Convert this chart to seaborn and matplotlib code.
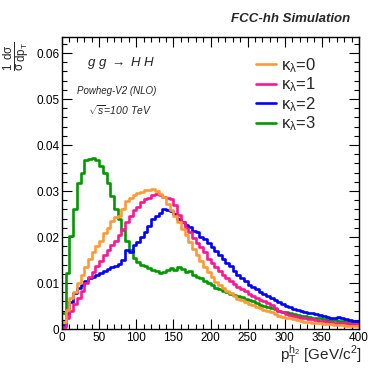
import numpy as np
import pandas as pd
import matplotlib
matplotlib.use("Agg")
import matplotlib.pyplot as plt
from matplotlib.lines import Line2D
from matplotlib.ticker import MultipleLocator, FuncFormatter
import seaborn as sns

# ---------------- data (5 GeV bins, 0-400 GeV) ----------------
bin_edges = list(range(0, 405, 5))
kappa_labels = ["0", "1", "2", "3"]

k0_orange = [0.0015, 0.0042, 0.0068, 0.0080, 0.0100, 0.0118, 0.0135, 0.0152, 0.0168, 0.0180,
             0.0192, 0.0208, 0.0220, 0.0235, 0.0243, 0.0246, 0.0260, 0.0278, 0.0285, 0.0292,
             0.0296, 0.0298, 0.0302, 0.0303, 0.0304, 0.0300, 0.0293, 0.0286, 0.0272, 0.0258,
             0.0246, 0.0232, 0.0218, 0.0205, 0.0190, 0.0174, 0.0160, 0.0148, 0.0135, 0.0124,
             0.0112, 0.0103, 0.0096, 0.0089, 0.0083, 0.0078, 0.0072, 0.0066, 0.0063, 0.0058,
             0.0055, 0.0052, 0.0048, 0.0045, 0.0042, 0.0039, 0.0036, 0.0032, 0.0029, 0.0027,
             0.0025, 0.0023, 0.0021, 0.0019, 0.0018, 0.0016, 0.0015, 0.0014, 0.0013, 0.0012,
             0.0011, 0.0010, 0.0010, 0.0009, 0.0008, 0.0008, 0.0007, 0.0007, 0.0006, 0.0006]

k1_pink = [0.0005, 0.0025, 0.0040, 0.0055, 0.0068, 0.0082, 0.0100, 0.0112, 0.0125, 0.0138,
           0.0148, 0.0160, 0.0172, 0.0182, 0.0192, 0.0205, 0.0218, 0.0232, 0.0245, 0.0258,
           0.0266, 0.0276, 0.0282, 0.0285, 0.0292, 0.0294, 0.0292, 0.0287, 0.0285, 0.0282,
           0.0270, 0.0248, 0.0232, 0.0220, 0.0210, 0.0198, 0.0188, 0.0178, 0.0168, 0.0152,
           0.0143, 0.0134, 0.0126, 0.0117, 0.0110, 0.0104, 0.0097, 0.0092, 0.0088, 0.0082,
           0.0076, 0.0071, 0.0067, 0.0063, 0.0060, 0.0057, 0.0052, 0.0046, 0.0040, 0.0036,
           0.0032, 0.0030, 0.0028, 0.0027, 0.0025, 0.0024, 0.0022, 0.0021, 0.0019, 0.0018,
           0.0017, 0.0016, 0.0015, 0.0014, 0.0013, 0.0013, 0.0012, 0.0011, 0.0011, 0.0010]

k2_blue = [0.0008, 0.0032, 0.0058, 0.0078, 0.0090, 0.0095, 0.0105, 0.0110, 0.0114, 0.0118,
           0.0122, 0.0126, 0.0130, 0.0134, 0.0138, 0.0142, 0.0150, 0.0172, 0.0168, 0.0182,
           0.0190, 0.0200, 0.0212, 0.0225, 0.0240, 0.0245, 0.0252, 0.0260, 0.0258, 0.0256,
           0.0250, 0.0240, 0.0232, 0.0226, 0.0222, 0.0213, 0.0210, 0.0200, 0.0195, 0.0186,
           0.0178, 0.0170, 0.0162, 0.0152, 0.0143, 0.0136, 0.0126, 0.0118, 0.0110, 0.0104,
           0.0096, 0.0092, 0.0088, 0.0080, 0.0076, 0.0072, 0.0067, 0.0062, 0.0058, 0.0054,
           0.0050, 0.0047, 0.0044, 0.0041, 0.0039, 0.0037, 0.0035, 0.0034, 0.0033, 0.0031,
           0.0029, 0.0027, 0.0025, 0.0024, 0.0026, 0.0023, 0.0021, 0.0020, 0.0018, 0.0017]

k3_green = [0.0035, 0.0122, 0.0202, 0.0260, 0.0317, 0.0339, 0.0368, 0.0370, 0.0372, 0.0368,
            0.0355, 0.0340, 0.0318, 0.0290, 0.0262, 0.0240, 0.0215, 0.0192, 0.0172, 0.0155,
            0.0145, 0.0140, 0.0137, 0.0133, 0.0128, 0.0126, 0.0122, 0.0125, 0.0128, 0.0132,
            0.0128, 0.0135, 0.0130, 0.0124, 0.0126, 0.0118, 0.0113, 0.0110, 0.0104, 0.0100,
            0.0096, 0.0090, 0.0087, 0.0083, 0.0080, 0.0077, 0.0074, 0.0072, 0.0069, 0.0066,
            0.0063, 0.0060, 0.0056, 0.0053, 0.0051, 0.0047, 0.0046, 0.0043, 0.0040, 0.0037,
            0.0036, 0.0034, 0.0032, 0.0031, 0.0029, 0.0028, 0.0026, 0.0025, 0.0023, 0.0023,
            0.0021, 0.0020, 0.0020, 0.0019, 0.0018, 0.0018, 0.0017, 0.0016, 0.0016, 0.0015]

series = [k0_orange, k1_pink, k2_blue, k3_green]
colors = ["#ff9933", "#ff1493", "#0000ff", "#009900"]

x_ticks = [0, 50, 100, 150, 200, 250, 300, 350, 400]
y_ticks = [0, 0.01, 0.02, 0.03, 0.04, 0.05, 0.06]

# ---------------- figure ----------------
sns.set_theme(style="ticks")
plt.rcParams["font.family"] = ["Liberation Sans", "DejaVu Sans"]
plt.rcParams["mathtext.fontset"] = "custom"
plt.rcParams["mathtext.rm"] = "Liberation Sans"
plt.rcParams["mathtext.it"] = "Liberation Sans:italic"
plt.rcParams["mathtext.bf"] = "Liberation Sans:bold"
plt.rcParams["mathtext.default"] = "regular"

fig = plt.figure(figsize=(3.9, 3.75), dpi=100)
ax = fig.add_axes([62 / 390, 46 / 375, 297 / 390, 292 / 375])

edges = np.array(bin_edges, dtype=float)
centers = (edges[:-1] + edges[1:]) / 2
rows = []
for lab, vals in zip(kappa_labels, series):
    for c, v in zip(centers, vals):
        rows.append({"pt": c, "w": v, "kappa": lab})
df = pd.DataFrame(rows)

sns.histplot(data=df, x="pt", weights="w", hue="kappa", hue_order=kappa_labels,
             palette=colors, binwidth=5, binrange=(0, 400), element="step", fill=False,
             linewidth=1.9, legend=False, ax=ax)

ax.set_xlim(0, 400)
ax.set_ylim(0, 0.0635)
ax.set_xlabel("")
ax.set_ylabel("")

ax.xaxis.set_minor_locator(MultipleLocator(10))
ax.yaxis.set_minor_locator(MultipleLocator(0.002))
ax.set_xticks(x_ticks)
ax.set_yticks(y_ticks)
ax.yaxis.set_major_formatter(FuncFormatter(lambda v, p: "0" if abs(v) < 1e-9 else f"{v:.2f}"))
ax.tick_params(which="both", direction="in", top=True, right=True, colors="black",
               labelsize=8.5, width=0.8)
ax.tick_params(which="major", length=7, pad=2)
ax.tick_params(which="minor", length=3.5)
for s in ax.spines.values():
    s.set_color("black")
    s.set_linewidth(1.0)

# labels
fig.text(17 / 390, 1 - 56 / 375, r"$\frac{1}{\sigma}\frac{d\sigma}{dp_{T}}$", rotation=90,
         ha="center", va="center", fontsize=12)
fig.text(362 / 390, 1 - 355 / 375, r"$p_{T}^{h_{2}}$ [GeV/c$^{2}$]", ha="right",
         va="center", fontsize=11)
fig.text(350 / 390, 1 - 19 / 375, "FCC-hh Simulation", ha="right", va="center",
         fontsize=9.5, fontweight="bold", fontstyle="italic")

ax.text(0.085, 0.911, r"$\it{g\ g}$ $\rightarrow$ $\it{H\ H}$", transform=ax.transAxes,
        ha="left", va="center", fontsize=9.5)
ax.text(0.052, 0.815, "Powheg-V2 (NLO)", transform=ax.transAxes, ha="left",
        va="center", fontsize=7, fontstyle="italic")
ax.text(0.088, 0.75, r"$\sqrt{s}$=100 TeV", transform=ax.transAxes, ha="left",
        va="center", fontsize=7.5, fontstyle="italic")

handles = [Line2D([0], [0], color=c, lw=1.9) for c in colors]
labels = [r"$\kappa_{\lambda}$=" + k for k in kappa_labels]
ax.legend(handles, labels, loc="upper left", bbox_to_anchor=(0.615, 0.975),
          frameon=False, fontsize=12, handlelength=1.2, handletextpad=0.3,
          labelspacing=0.05, borderpad=0.2)

fig.savefig("out.png", dpi=100)
